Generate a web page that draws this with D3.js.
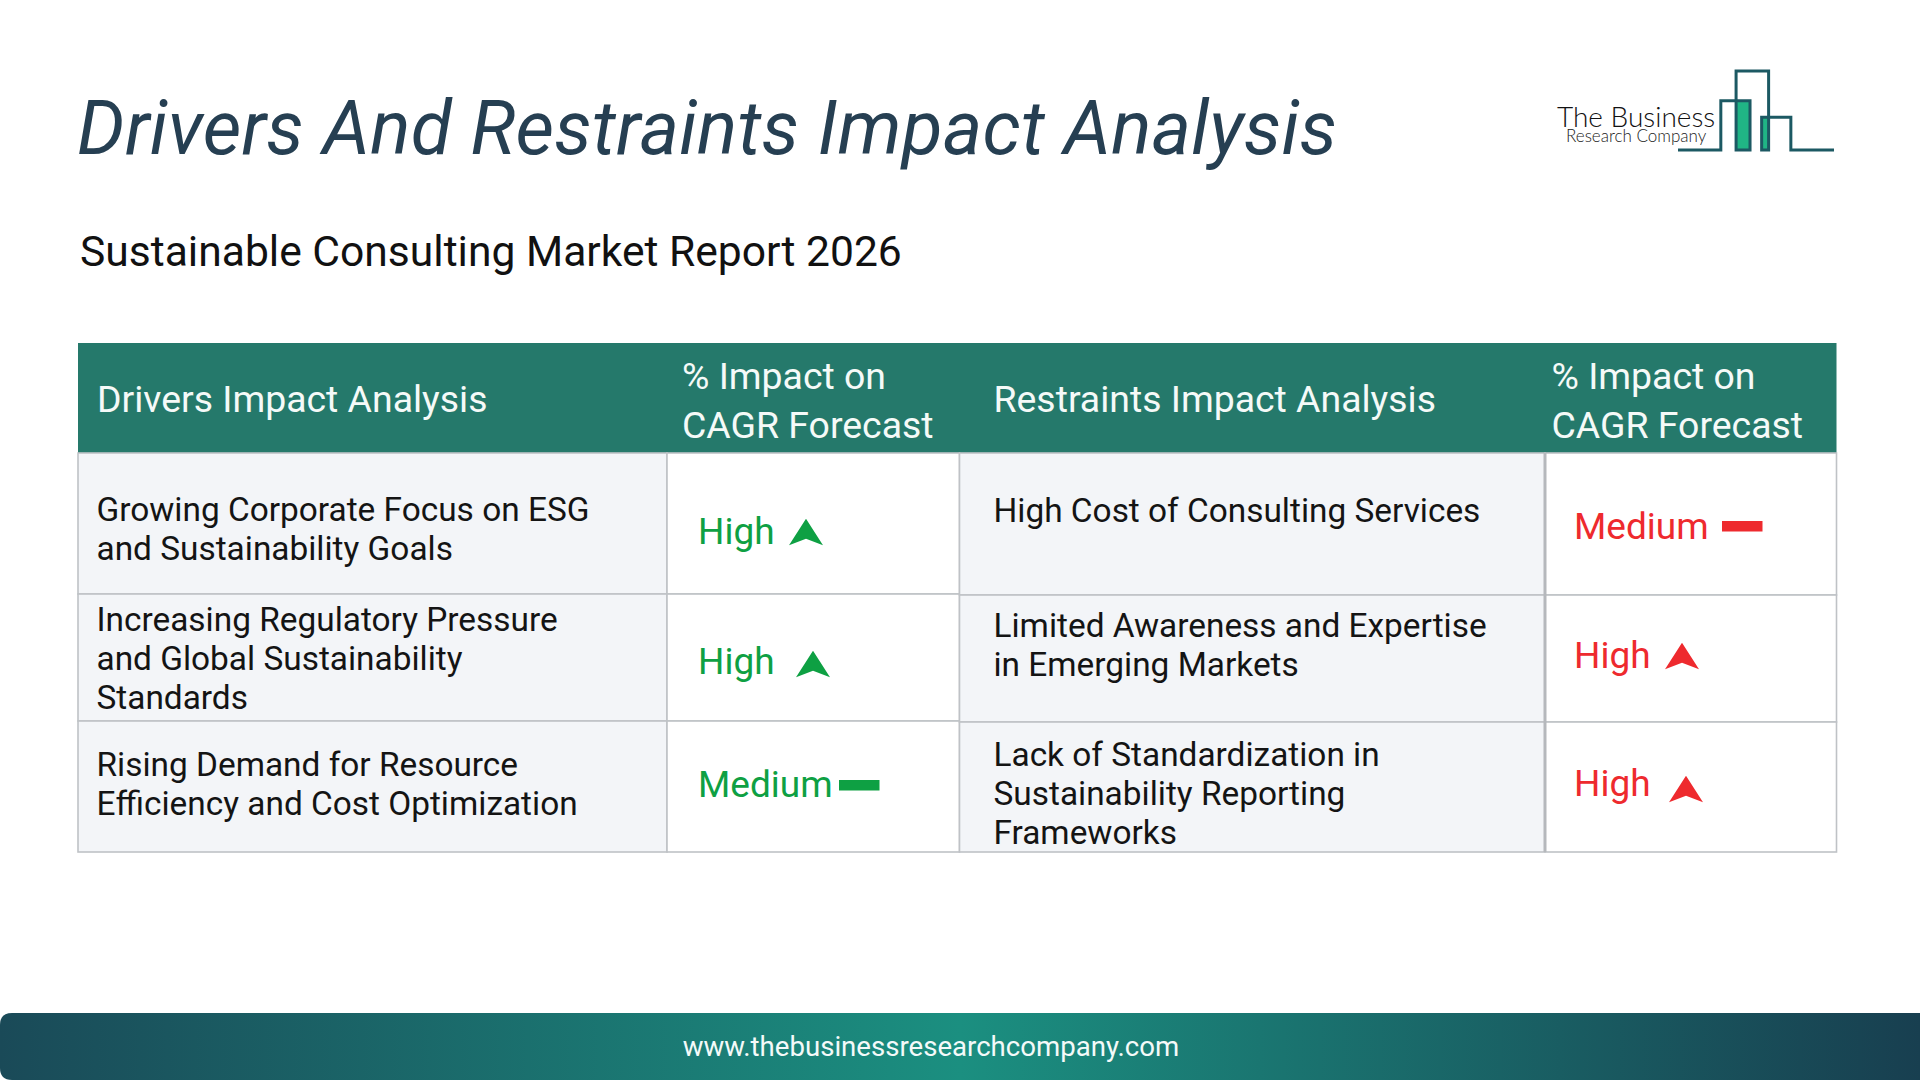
<!DOCTYPE html>
<html>
<head>
<meta charset="utf-8">
<title>Drivers And Restraints Impact Analysis</title>
<script src="https://cdn.jsdelivr.net/npm/d3@7"></script>
<style>
  html, body { margin: 0; padding: 0; background: #fff; overflow: hidden; }
  text { font-family: Roboto, sans-serif; }
</style>
</head>
<body>
<div id="chart"></div>
<script>
const chartTitle = "Drivers And Restraints Impact Analysis";
const chartSubtitle = "Sustainable Consulting Market Report 2026";
const footerUrl = "www.thebusinessresearchcompany.com";

const columnHeaders = [
    ["Drivers Impact Analysis"],
    ["% Impact on", "CAGR Forecast"],
    ["Restraints Impact Analysis"],
    ["% Impact on", "CAGR Forecast"]
];
const driverLabels = [
    ["Growing Corporate Focus on ESG", "and Sustainability Goals"],
    ["Increasing Regulatory Pressure", "and Global Sustainability", "Standards"],
    ["Rising Demand for Resource", "Efficiency and Cost Optimization"]
];
const driverImpact = ["High", "High", "Medium"];
const restraintLabels = [
    ["High Cost of Consulting Services"],
    ["Limited Awareness and Expertise", "in Emerging Markets"],
    ["Lack of Standardization in", "Sustainability Reporting", "Frameworks"]
];
const restraintImpact = ["Medium", "High", "High"];

const width = 1920;
const height = 1080;
const green = "#0ea043";
const red = "#ee2a2e";
const rows = [0, 1, 2];

// table grid
const colX = d3.scaleOrdinal().domain([0, 1, 2, 3, 4]).range([78, 667, 959.5, 1545, 1836.5]);
const leftRowY = d3.scaleOrdinal().domain([0, 1, 2, 3]).range([453, 594, 721, 852]);
const rightRowY = d3.scaleOrdinal().domain([0, 1, 2, 3]).range([453, 595, 722, 852]);

// where the text and impact marks sit inside each row, irregular in the source
const driverTextY = [68, 37, 55];
const restraintTextY = [69, 42, 44];
const driverMark = [
    { textY: 91, markX: 139, markY: 79, textX: 31 },
    { textY: 80, markX: 146, markY: 70, textX: 31 },
    { textY: 76, markX: 192, markY: 64, textX: 31 }
];
const restraintMark = [
    { textY: 86, markX: 197, markY: 73, textX: 29 },
    { textY: 73, markX: 137, markY: 61, textX: 29 },
    { textY: 74, markX: 141, markY: 67, textX: 29 }
];
const lineStep = 38.8;

const svg = d3.select("#chart").append("svg")
    .attr("width", width)
    .attr("height", height)
    .attr("viewBox", [0, 0, width, height]);

const defs = svg.append("defs");
const footerGrad = defs.append("linearGradient").attr("id", "footer-grad");
footerGrad.selectAll("stop")
    .data([["0%", "#1a4a58"], ["50%", "#1b8f80"], ["100%", "#183f50"]])
    .join("stop")
    .attr("offset", d => d[0])
    .attr("stop-color", d => d[1]);

svg.append("text")
    .attr("x", 77).attr("y", 154)
    .attr("font-size", 75).attr("font-style", "italic")
    .attr("fill", "#263f52")
    .attr("letter-spacing", 0.2)
    .text(chartTitle);

svg.append("text")
    .attr("x", 80).attr("y", 266)
    .attr("font-size", 42.6)
    .attr("fill", "#111")
    .text(chartSubtitle);

// logo
const logo = svg.append("g");
const logoX = d3.scaleLinear().domain([0, 470]).range([1678, 1834]);
const logoY = d3.scaleLinear().domain([0, 237]).range([71, 150]);
logo.selectAll("rect")
    .data([[175, 217, 89], [252, 273, 139]])
    .join("rect")
    .attr("x", d => logoX(d[0]))
    .attr("width", d => logoX(d[1]) - logoX(d[0]))
    .attr("y", d => logoY(d[2]))
    .attr("height", d => logoY(237) - logoY(d[2]))
    .attr("fill", "#20b585");
const skyline = [[0, 237], [129, 237], [129, 89], [217, 89], [217, 237], [175, 237], [175, 0], [273, 0],
    [273, 237], [252, 237], [252, 139], [340, 139], [340, 237], [470, 237]];
logo.append("path")
    .attr("d", d3.line().x(d => logoX(d[0])).y(d => logoY(d[1]))(skyline))
    .attr("fill", "none")
    .attr("stroke", "#1c5963")
    .attr("stroke-width", 3);
logo.append("text")
    .attr("x", 1557).attr("y", 127)
    .attr("font-weight", 300).attr("font-size", 28)
    .style("font-family", "Lato")
    .attr("fill", "#111")
    .text("The Business");
logo.append("text")
    .attr("x", 1566).attr("y", 142)
    .style("font-family", "Lato").attr("font-weight", 300).attr("font-size", 17)
    .attr("fill", "#222")
    .text("Research Company");

// table header
svg.append("rect")
    .attr("x", colX(0)).attr("y", 343)
    .attr("width", colX(4) - colX(0)).attr("height", leftRowY(0) - 343)
    .attr("fill", "#25796b");

const headerX = [97, 682, 993.5, 1551.5];
const headerBaseline = [[412], [388.5, 437.5], [412], [388.5, 437.5]];
const headers = svg.append("g").attr("fill", "#f5faf8").attr("font-size", 37.4);
columnHeaders.forEach((lines, c) => {
    headers.selectAll(null)
        .data(lines)
        .join("text")
        .attr("x", headerX[c])
        .attr("y", (d, i) => headerBaseline[c][i])
        .text(d => d);
});

// table body
const cols = [
    { c: 0, rowY: leftRowY },
    { c: 1, rowY: leftRowY },
    { c: 2, rowY: rightRowY },
    { c: 3, rowY: rightRowY }
];
cols.forEach(({ c, rowY }) => {
    svg.append("g").selectAll("rect")
        .data(rows)
        .join("rect")
        .attr("x", colX(c))
        .attr("y", r => rowY(r))
        .attr("width", colX(c + 1) - colX(c))
        .attr("height", r => rowY(r + 1) - rowY(r))
        .attr("fill", c % 2 === 0 ? "#f3f5f8" : "#fff")
        .attr("stroke", "#bfc2c6")
        .attr("stroke-width", 1.6);
});

// the heavier rule in front of the last column
svg.append("line")
    .attr("x1", colX(3)).attr("x2", colX(3))
    .attr("y1", rightRowY(0)).attr("y2", rightRowY(3))
    .attr("stroke", "#b5b8bc").attr("stroke-width", 3);

function drawLabels(labels, x, rowY, offsets) {
    const g = svg.append("g").attr("fill", "#141414").attr("font-size", 33.4);
    labels.forEach((lines, r) => {
        g.selectAll(null)
            .data(lines)
            .join("text")
            .attr("x", x)
            .attr("y", (d, i) => rowY(r) + offsets[r] + i * lineStep)
            .text(d => d);
    });
}
drawLabels(driverLabels, 96.5, leftRowY, driverTextY);
drawLabels(restraintLabels, 993.5, rightRowY, restraintTextY);

// notched arrow, drawn around its centre
const arrowSymbol = {
    draw(ctx, size) {
        const w = Math.sqrt(size) / 2;
        const h = w * 0.78;
        ctx.moveTo(0, -h);
        ctx.lineTo(w, h);
        ctx.lineTo(0, h * 0.5);
        ctx.lineTo(-w, h);
        ctx.closePath();
    }
};

function drawImpact(levels, col, rowY, marks, color) {
    const g = svg.append("g").attr("fill", color);
    const x = colX(col);
    levels.forEach((level, r) => {
        const m = marks[r];
        g.append("text")
            .attr("x", x + m.textX)
            .attr("y", rowY(r) + m.textY)
            .attr("font-size", 37)
            .text(level);
        if (level === "High") {
            g.append("path")
                .attr("d", d3.symbol(arrowSymbol, 1156)())
                .attr("transform", `translate(${x + m.markX},${rowY(r) + m.markY})`);
        } else {
            g.append("rect")
                .attr("x", x + m.markX - 20)
                .attr("y", rowY(r) + m.markY - 5)
                .attr("width", 40.5)
                .attr("height", 10.5);
        }
    });
}
drawImpact(driverImpact, 1, leftRowY, driverMark, green);
drawImpact(restraintImpact, 3, rightRowY, restraintMark, red);

// footer band
svg.append("path")
    .attr("d", "M0,1025 Q0,1013 12,1013 H1920 V1080 H12 Q0,1080 0,1068 Z")
    .attr("fill", "url(#footer-grad)");
svg.append("text")
    .attr("x", 931).attr("y", 1056)
    .attr("text-anchor", "middle")
    .attr("font-size", 27.6)
    .attr("fill", "#f4faf9")
    .text(footerUrl);
</script>
</body>
</html>
